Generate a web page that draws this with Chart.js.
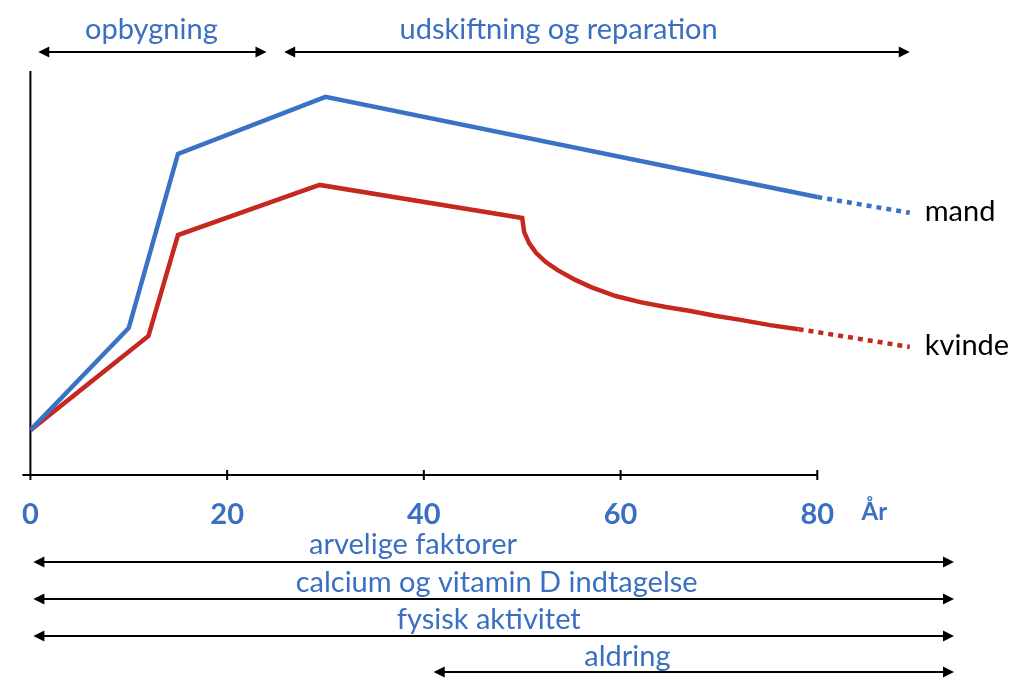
<!DOCTYPE html>
<html lang="da">
<head>
    <meta charset="UTF-8">
    <title>Knoglemasse gennem livet</title>
    <script src="https://cdn.jsdelivr.net/npm/chart.js"></script>
    <style>
        html, body {
            margin: 0;
            padding: 0;
            background-color: #fff;
        }

        #wrap {
            width: 1028px;
            height: 696px;
        }
    </style>
</head>
<body>
    <div id="wrap"><canvas id="graf"></canvas></div>

    <script>
        // Alder (år) og relativ knoglemasse
        const mandAlder = [0, 10, 15, 30, 80, 89.4];
        const mandMasse = [11.1, 36.4, 79.5, 93.6, 68.8, 64.9];

        const kvindeAlder = [0, 12, 15, 29.4, 50, 50.2, 50.7, 51.4, 52.4, 53.6, 55.4, 57, 59.5, 62, 64.6, 67.1, 69.6, 72.2, 75.2, 78.1, 89.4];
        const kvindeMasse = [11.1, 34.4, 59.4, 71.8, 63.6, 60.1, 57.4, 55.0, 52.7, 50.7, 48.3, 46.5, 44.3, 42.8, 41.6, 40.6, 39.4, 38.4, 37.1, 36.1, 31.7];

        const serieNavne = ['mand', 'kvinde'];
        const aksetal = [0, 20, 40, 60, 80]; // tal under x-aksen
        const enhed = 'År';

        // Perioder: [fra år, til år, tekst]
        const faser = [
            [0.8, 24, 'opbygning'],
            [25.8, 89.4, 'udskiftning og reparation']
        ];
        const faktorer = [
            [0.3, 93.9, 'arvelige faktorer'],
            [0.3, 93.9, 'calcium og vitamin D indtagelse'],
            [0.3, 93.9, 'fysisk aktivitet'],
            [41, 93.9, 'aldring']
        ];

        const blaa = '#3A73C6';
        const roed = '#C4281F';
        const tekstBlaa = '#3A6FC1';
        const skrift = 'Lato';

        // stiplet fortsættelse efter ca. 78 år
        const stiplet = ctx => ctx.p0.parsed.x >= 78 ? [5, 5] : undefined;

        function pil(ctx, x1, x2, y) {
            ctx.beginPath();
            ctx.moveTo(x1 + 8, y);
            ctx.lineTo(x2 - 8, y);
            ctx.stroke();
            ctx.beginPath(); // venstre spids
            ctx.moveTo(x1, y);
            ctx.lineTo(x1 + 11, y - 5.5);
            ctx.lineTo(x1 + 11, y + 5.5);
            ctx.closePath();
            ctx.fill();
            ctx.beginPath(); // højre spids
            ctx.moveTo(x2, y);
            ctx.lineTo(x2 - 11, y - 5.5);
            ctx.lineTo(x2 - 11, y + 5.5);
            ctx.closePath();
            ctx.fill();
        }

        // Akser (kun op til 80 år)
        const aksePlugin = {
            id: 'akser',
            beforeDatasetsDraw(chart) {
                const { ctx, chartArea, scales: { x } } = chart;
                const x0 = x.getPixelForValue(0);
                ctx.save();
                ctx.strokeStyle = '#000';
                ctx.lineWidth = 2;
                ctx.beginPath();
                ctx.moveTo(x0, chartArea.top);
                ctx.lineTo(x0, chartArea.bottom + 3);
                ctx.moveTo(x0 - 8, chartArea.bottom);
                ctx.lineTo(x.getPixelForValue(80), chartArea.bottom);
                aksetal.forEach(v => {
                    const px = x.getPixelForValue(v);
                    ctx.moveTo(px, chartArea.bottom - 5);
                    ctx.lineTo(px, chartArea.bottom + 5);
                });
                ctx.stroke();
                ctx.restore();
            }
        };

        // Pile, tekster og serienavne
        const tekstPlugin = {
            id: 'tekster',
            afterDatasetsDraw(chart, args, opts) {
                const { ctx, scales: { x, y } } = chart;
                ctx.save();
                ctx.strokeStyle = '#000';
                ctx.fillStyle = '#000';
                ctx.lineWidth = 2;
                ctx.textAlign = 'center';
                ctx.textBaseline = 'middle';

                const alle = faser.concat(faktorer);
                alle.forEach((f, i) => {
                    const p = opts.placering[i];
                    ctx.fillStyle = '#000';
                    pil(ctx, x.getPixelForValue(f[0]), x.getPixelForValue(f[1]), p.pilY);
                    ctx.fillStyle = tekstBlaa;
                    ctx.font = '29px ' + skrift;
                    ctx.fillText(f[2], x.getPixelForValue(p.tekstVed), p.tekstY);
                });

                ctx.fillStyle = tekstBlaa;
                ctx.font = 'bold 24px ' + skrift;
                ctx.fillText(enhed, x.getPixelForValue(opts.enhedVed), opts.enhedY);

                ctx.fillStyle = '#000';
                ctx.textAlign = 'left';
                ctx.font = '29px ' + skrift;
                chart.data.datasets.forEach((ds, i) => {
                    const sidste = ds.data[ds.data.length - 1];
                    ctx.fillText(serieNavne[i], x.getPixelForValue(sidste.x) + 15, y.getPixelForValue(sidste.y) - 1);
                });
                ctx.restore();
            }
        };

        function tegnGraf() {
            const ctx = document.getElementById('graf').getContext('2d');
            new Chart(ctx, {
                type: 'line',
                data: {
                    datasets: [{
                        label: serieNavne[0],
                        data: mandAlder.map((a, i) => ({ x: a, y: mandMasse[i] })),
                        borderColor: blaa,
                        borderWidth: 4.5,
                        segment: { borderDash: stiplet }
                    }, {
                        label: serieNavne[1],
                        data: kvindeAlder.map((a, i) => ({ x: a, y: kvindeMasse[i] })),
                        borderColor: roed,
                        borderWidth: 4.5,
                        segment: { borderDash: stiplet }
                    }]
                },
                options: {
                    responsive: true,
                    maintainAspectRatio: false,
                    animation: false,
                    layout: { padding: { left: 29, right: 73, top: 71, bottom: 0 } },
                    elements: {
                        point: { radius: 0 },
                        line: { tension: 0, fill: false }
                    },
                    plugins: {
                        legend: { display: false },
                        tooltip: { enabled: false },
                        tekster: {
                            placering: [
                                { pilY: 52, tekstY: 30, tekstVed: 12.3 },
                                { pilY: 52, tekstY: 30, tekstVed: 53.7 },
                                { pilY: 562, tekstY: 545, tekstVed: 38.9 },
                                { pilY: 599, tekstY: 583, tekstVed: 47.4 },
                                { pilY: 636, tekstY: 620, tekstVed: 46.6 },
                                { pilY: 672, tekstY: 657, tekstVed: 60.7 }
                            ],
                            enhedVed: 85.8,
                            enhedY: 512
                        }
                    },
                    scales: {
                        x: {
                            type: 'linear',
                            min: 0,
                            max: 94,
                            grid: { display: false, drawTicks: false },
                            border: { display: false },
                            afterBuildTicks: s => { s.ticks = aksetal.map(v => ({ value: v })); },
                            afterFit: s => { s.height = 221; },
                            ticks: {
                                padding: 22,
                                color: tekstBlaa,
                                font: { family: skrift, size: 29, weight: 'bold' }
                            }
                        },
                        y: {
                            display: false,
                            min: 0,
                            max: 100
                        }
                    }
                },
                plugins: [aksePlugin, tekstPlugin]
            });
        }

        Promise.all([
            document.fonts.load('29px ' + skrift),
            document.fonts.load('bold 29px ' + skrift)
        ]).then(tegnGraf, tegnGraf);
    </script>
</body>
</html>
